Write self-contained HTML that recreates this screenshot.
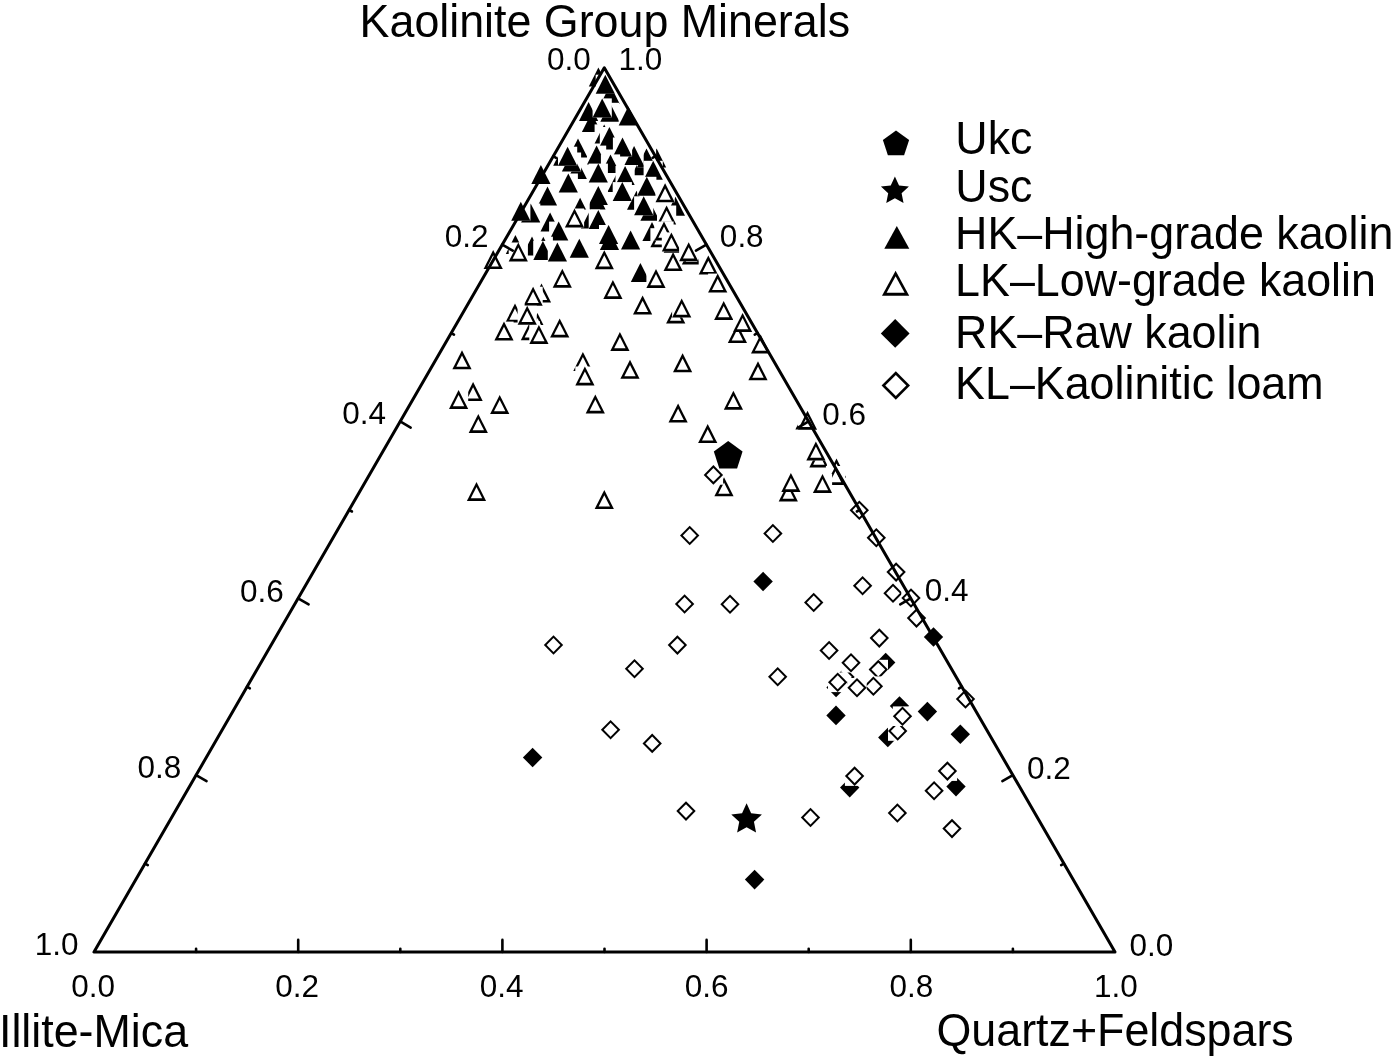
<!DOCTYPE html>
<html><head><meta charset="utf-8"><title>Kaolinite ternary</title>
<style>html,body{margin:0;padding:0;background:#fff;}svg{display:block;}text{font-family:"Liberation Sans",sans-serif;fill:#000;}</style>
</head><body>
<svg width="1400" height="1060" viewBox="0 0 1400 1060">
<rect width="1400" height="1060" fill="#fff"/>
<g id="marks"><rect x="588.80" y="67.40" width="19.20" height="19.00" fill="#fff"/><path d="M598.40,67.40L608.00,86.40L588.80,86.40Z" fill="#000"/><rect x="600.60" y="84.90" width="19.20" height="19.00" fill="#fff"/><path d="M610.20,84.90L619.80,103.90L600.60,103.90Z" fill="#000"/><rect x="595.70" y="74.70" width="19.20" height="19.00" fill="#fff"/><path d="M605.30,74.70L614.90,93.70L595.70,93.70Z" fill="#000"/><rect x="581.90" y="113.00" width="19.20" height="19.00" fill="#fff"/><path d="M591.50,113.00L601.10,132.00L581.90,132.00Z" fill="#000"/><rect x="579.00" y="101.90" width="19.20" height="19.00" fill="#fff"/><path d="M588.60,101.90L598.20,120.90L579.00,120.90Z" fill="#000"/><rect x="600.30" y="102.80" width="19.20" height="19.00" fill="#fff"/><path d="M609.90,102.80L619.50,121.80L600.30,121.80Z" fill="#000"/><rect x="592.60" y="98.40" width="19.20" height="19.00" fill="#fff"/><path d="M602.20,98.40L611.80,117.40L592.60,117.40Z" fill="#000"/><rect x="618.70" y="106.60" width="19.20" height="19.00" fill="#fff"/><path d="M628.30,106.60L637.90,125.60L618.70,125.60Z" fill="#000"/><rect x="594.60" y="124.40" width="19.20" height="19.00" fill="#fff"/><path d="M604.20,124.40L613.80,143.40L594.60,143.40Z" fill="#000"/><rect x="600.00" y="130.60" width="19.20" height="19.00" fill="#fff"/><path d="M609.60,130.60L619.20,149.60L600.00,149.60Z" fill="#000"/><rect x="599.80" y="127.00" width="19.20" height="19.00" fill="#fff"/><path d="M609.40,127.00L619.00,146.00L599.80,146.00Z" fill="#000"/><rect x="568.40" y="138.50" width="19.20" height="19.00" fill="#fff"/><path d="M578.00,138.50L587.60,157.50L568.40,157.50Z" fill="#000"/><rect x="647.00" y="148.40" width="19.20" height="19.00" fill="#fff"/><path d="M656.60,148.40L666.20,167.40L647.00,167.40Z" fill="#000"/><rect x="631.70" y="156.20" width="19.20" height="19.00" fill="#fff"/><path d="M641.30,156.20L650.90,175.20L631.70,175.20Z" fill="#000"/><rect x="636.90" y="148.40" width="19.20" height="19.00" fill="#fff"/><path d="M646.50,148.40L656.10,167.40L636.90,167.40Z" fill="#000"/><rect x="624.50" y="146.00" width="19.20" height="19.00" fill="#fff"/><path d="M634.10,146.00L643.70,165.00L624.50,165.00Z" fill="#000"/><rect x="612.90" y="137.50" width="19.20" height="19.00" fill="#fff"/><path d="M622.50,137.50L632.10,156.50L612.90,156.50Z" fill="#000"/><rect x="643.60" y="160.80" width="19.20" height="19.00" fill="#fff"/><path d="M653.20,160.80L662.80,179.80L643.60,179.80Z" fill="#000"/><rect x="567.70" y="160.00" width="19.20" height="19.00" fill="#fff"/><path d="M577.30,160.00L586.90,179.00L567.70,179.00Z" fill="#000"/><rect x="561.90" y="152.50" width="19.20" height="19.00" fill="#fff"/><path d="M571.50,152.50L581.10,171.50L561.90,171.50Z" fill="#000"/><rect x="553.20" y="146.70" width="19.20" height="19.00" fill="#fff"/><path d="M562.80,146.70L572.40,165.70L553.20,165.70Z" fill="#000"/><rect x="558.00" y="146.70" width="19.20" height="19.00" fill="#fff"/><path d="M567.60,146.70L577.20,165.70L558.00,165.70Z" fill="#000"/><rect x="587.00" y="145.60" width="19.20" height="19.00" fill="#fff"/><path d="M596.60,145.60L606.20,164.60L587.00,164.60Z" fill="#000"/><rect x="600.90" y="154.40" width="19.20" height="19.00" fill="#fff"/><path d="M610.50,154.40L620.10,173.40L600.90,173.40Z" fill="#000"/><rect x="531.30" y="165.00" width="19.20" height="19.00" fill="#fff"/><path d="M540.90,165.00L550.50,184.00L531.30,184.00Z" fill="#000"/><rect x="558.70" y="173.50" width="19.20" height="19.00" fill="#fff"/><path d="M568.30,173.50L577.90,192.50L558.70,192.50Z" fill="#000"/><rect x="607.40" y="173.00" width="19.20" height="19.00" fill="#fff"/><path d="M617.00,173.00L626.60,192.00L607.40,192.00Z" fill="#000"/><rect x="615.50" y="165.90" width="19.20" height="19.00" fill="#fff"/><path d="M625.10,165.90L634.70,184.90L615.50,184.90Z" fill="#000"/><rect x="588.70" y="163.60" width="19.20" height="19.00" fill="#fff"/><path d="M598.30,163.60L607.90,182.60L588.70,182.60Z" fill="#000"/><rect x="627.00" y="190.80" width="19.20" height="19.00" fill="#fff"/><path d="M636.60,190.80L646.20,209.80L627.00,209.80Z" fill="#000"/><rect x="637.20" y="176.80" width="19.20" height="19.00" fill="#fff"/><path d="M646.80,176.80L656.40,195.80L637.20,195.80Z" fill="#000"/><rect x="612.70" y="182.10" width="19.20" height="19.00" fill="#fff"/><path d="M622.30,182.10L631.90,201.10L612.70,201.10Z" fill="#000"/><rect x="586.40" y="190.60" width="19.20" height="19.00" fill="#fff"/><path d="M596.00,190.60L605.60,209.60L586.40,209.60Z" fill="#000"/><rect x="588.70" y="185.90" width="19.20" height="19.00" fill="#fff"/><path d="M598.30,185.90L607.90,204.90L588.70,204.90Z" fill="#000"/><rect x="537.90" y="186.50" width="19.20" height="19.00" fill="#fff"/><path d="M547.50,186.50L557.10,205.50L537.90,205.50Z" fill="#000"/><rect x="640.40" y="201.80" width="19.20" height="19.00" fill="#fff"/><path d="M650.00,201.80L659.60,220.80L640.40,220.80Z" fill="#000"/><rect x="634.10" y="196.30" width="19.20" height="19.00" fill="#fff"/><path d="M643.70,196.30L653.30,215.30L634.10,215.30Z" fill="#000"/><rect x="665.80" y="196.70" width="19.20" height="19.00" fill="#fff"/><path d="M675.40,196.70L685.00,215.70L665.80,215.70Z" fill="#000"/><rect x="521.10" y="203.50" width="19.20" height="19.00" fill="#fff"/><path d="M530.70,203.50L540.30,222.50L521.10,222.50Z" fill="#000"/><rect x="511.20" y="201.70" width="19.20" height="19.00" fill="#fff"/><path d="M520.80,201.70L530.40,220.70L511.20,220.70Z" fill="#000"/><rect x="570.50" y="197.70" width="19.20" height="19.00" fill="#fff"/><path d="M580.10,197.70L589.70,216.70L570.50,216.70Z" fill="#000"/><rect x="540.50" y="212.60" width="19.20" height="19.00" fill="#fff"/><path d="M550.10,212.60L559.70,231.60L540.50,231.60Z" fill="#000"/><rect x="549.10" y="221.60" width="19.20" height="19.00" fill="#fff"/><path d="M558.70,221.60L568.30,240.60L549.10,240.60Z" fill="#000"/><rect x="580.90" y="209.50" width="19.20" height="19.00" fill="#fff"/><path d="M590.50,209.50L600.10,228.50L580.90,228.50Z" fill="#000"/><rect x="588.70" y="210.00" width="19.20" height="19.00" fill="#fff"/><path d="M598.30,210.00L607.90,229.00L588.70,229.00Z" fill="#000"/><rect x="642.40" y="222.00" width="19.20" height="19.00" fill="#fff"/><path d="M652.00,222.00L661.60,241.00L642.40,241.00Z" fill="#000"/><rect x="599.90" y="231.00" width="19.20" height="19.00" fill="#fff"/><path d="M609.50,231.00L619.10,250.00L599.90,250.00Z" fill="#000"/><rect x="599.00" y="225.00" width="19.20" height="19.00" fill="#fff"/><path d="M608.60,225.00L618.20,244.00L599.00,244.00Z" fill="#000"/><rect x="621.00" y="230.40" width="19.20" height="19.00" fill="#fff"/><path d="M630.60,230.40L640.20,249.40L621.00,249.40Z" fill="#000"/><rect x="505.80" y="235.00" width="19.20" height="19.00" fill="#fff"/><path d="M515.40,235.00L525.00,254.00L505.80,254.00Z" fill="#000"/><rect x="522.40" y="236.60" width="19.20" height="19.00" fill="#fff"/><path d="M532.00,236.60L541.60,255.60L522.40,255.60Z" fill="#000"/><rect x="533.70" y="236.70" width="19.20" height="19.00" fill="#fff"/><path d="M543.30,236.70L552.90,255.70L533.70,255.70Z" fill="#000"/><rect x="533.30" y="240.90" width="19.20" height="19.00" fill="#fff"/><path d="M542.90,240.90L552.50,259.90L533.30,259.90Z" fill="#000"/><rect x="547.80" y="242.60" width="19.20" height="19.00" fill="#fff"/><path d="M557.40,242.60L567.00,261.60L547.80,261.60Z" fill="#000"/><rect x="569.70" y="238.70" width="19.20" height="19.00" fill="#fff"/><path d="M579.30,238.70L588.90,257.70L569.70,257.70Z" fill="#000"/><rect x="630.80" y="263.00" width="19.20" height="19.00" fill="#fff"/><path d="M640.40,263.00L650.00,282.00L630.80,282.00Z" fill="#000"/><rect x="655.50" y="183.30" width="19.20" height="19.00" fill="#fff"/><path d="M665.10,183.30L674.70,202.30L655.50,202.30Z" fill="#000"/><path d="M665.10,188.40L670.79,199.66L659.41,199.66Z" fill="#fff"/><rect x="657.00" y="205.50" width="19.20" height="19.00" fill="#fff"/><path d="M666.60,205.50L676.20,224.50L657.00,224.50Z" fill="#000"/><path d="M666.60,210.60L672.29,221.85L660.91,221.85Z" fill="#fff"/><rect x="650.40" y="228.20" width="19.20" height="19.00" fill="#fff"/><path d="M660.00,228.20L669.60,247.20L650.40,247.20Z" fill="#000"/><path d="M660.00,233.30L665.69,244.55L654.31,244.55Z" fill="#fff"/><rect x="654.40" y="221.50" width="19.20" height="19.00" fill="#fff"/><path d="M664.00,221.50L673.60,240.50L654.40,240.50Z" fill="#000"/><path d="M664.00,226.60L669.69,237.85L658.31,237.85Z" fill="#fff"/><rect x="564.90" y="208.50" width="19.20" height="19.00" fill="#fff"/><path d="M574.50,208.50L584.10,227.50L564.90,227.50Z" fill="#000"/><path d="M574.50,213.60L580.19,224.85L568.81,224.85Z" fill="#fff"/><rect x="483.60" y="250.10" width="19.20" height="19.00" fill="#fff"/><path d="M493.20,250.10L502.80,269.10L483.60,269.10Z" fill="#000"/><path d="M493.20,255.20L498.89,266.46L487.51,266.46Z" fill="#fff"/><rect x="508.70" y="242.50" width="19.20" height="19.00" fill="#fff"/><path d="M518.30,242.50L527.90,261.50L508.70,261.50Z" fill="#000"/><path d="M518.30,247.60L523.99,258.86L512.61,258.86Z" fill="#fff"/><rect x="594.70" y="250.20" width="19.20" height="19.00" fill="#fff"/><path d="M604.30,250.20L613.90,269.20L594.70,269.20Z" fill="#000"/><path d="M604.30,255.30L609.99,266.56L598.61,266.56Z" fill="#fff"/><rect x="646.40" y="269.00" width="19.20" height="19.00" fill="#fff"/><path d="M656.00,269.00L665.60,288.00L646.40,288.00Z" fill="#000"/><path d="M656.00,274.10L661.69,285.36L650.31,285.36Z" fill="#fff"/><rect x="552.70" y="268.70" width="19.20" height="19.00" fill="#fff"/><path d="M562.30,268.70L571.90,287.70L552.70,287.70Z" fill="#000"/><path d="M562.30,273.80L567.99,285.06L556.61,285.06Z" fill="#fff"/><rect x="603.30" y="279.90" width="19.20" height="19.00" fill="#fff"/><path d="M612.90,279.90L622.50,298.90L603.30,298.90Z" fill="#000"/><path d="M612.90,285.00L618.59,296.25L607.21,296.25Z" fill="#fff"/><rect x="531.90" y="283.60" width="19.20" height="19.00" fill="#fff"/><path d="M541.50,283.60L551.10,302.60L531.90,302.60Z" fill="#000"/><path d="M541.50,288.70L547.19,299.96L535.81,299.96Z" fill="#fff"/><rect x="523.50" y="286.70" width="19.20" height="19.00" fill="#fff"/><path d="M533.10,286.70L542.70,305.70L523.50,305.70Z" fill="#000"/><path d="M533.10,291.80L538.79,303.06L527.41,303.06Z" fill="#fff"/><rect x="633.00" y="295.60" width="19.20" height="19.00" fill="#fff"/><path d="M642.60,295.60L652.20,314.60L633.00,314.60Z" fill="#000"/><path d="M642.60,300.70L648.29,311.96L636.91,311.96Z" fill="#fff"/><rect x="505.40" y="303.50" width="19.20" height="19.00" fill="#fff"/><path d="M515.00,303.50L524.60,322.50L505.40,322.50Z" fill="#000"/><path d="M515.00,308.60L520.69,319.86L509.31,319.86Z" fill="#fff"/><rect x="527.80" y="313.00" width="19.20" height="19.00" fill="#fff"/><path d="M537.40,313.00L547.00,332.00L527.80,332.00Z" fill="#000"/><path d="M537.40,318.10L543.09,329.36L531.71,329.36Z" fill="#fff"/><rect x="520.80" y="321.20" width="19.20" height="19.00" fill="#fff"/><path d="M530.40,321.20L540.00,340.20L520.80,340.20Z" fill="#000"/><path d="M530.40,326.30L536.09,337.56L524.71,337.56Z" fill="#fff"/><rect x="517.60" y="305.70" width="19.20" height="19.00" fill="#fff"/><path d="M527.20,305.70L536.80,324.70L517.60,324.70Z" fill="#000"/><path d="M527.20,310.80L532.89,322.06L521.51,322.06Z" fill="#fff"/><rect x="494.40" y="321.60" width="19.20" height="19.00" fill="#fff"/><path d="M504.00,321.60L513.60,340.60L494.40,340.60Z" fill="#000"/><path d="M504.00,326.70L509.69,337.96L498.31,337.96Z" fill="#fff"/><rect x="529.30" y="325.00" width="19.20" height="19.00" fill="#fff"/><path d="M538.90,325.00L548.50,344.00L529.30,344.00Z" fill="#000"/><path d="M538.90,330.10L544.59,341.36L533.21,341.36Z" fill="#fff"/><rect x="550.10" y="318.40" width="19.20" height="19.00" fill="#fff"/><path d="M559.70,318.40L569.30,337.40L550.10,337.40Z" fill="#000"/><path d="M559.70,323.50L565.39,334.75L554.01,334.75Z" fill="#fff"/><rect x="610.30" y="332.00" width="19.20" height="19.00" fill="#fff"/><path d="M619.90,332.00L629.50,351.00L610.30,351.00Z" fill="#000"/><path d="M619.90,337.10L625.59,348.36L614.21,348.36Z" fill="#fff"/><rect x="452.40" y="350.30" width="19.20" height="19.00" fill="#fff"/><path d="M462.00,350.30L471.60,369.30L452.40,369.30Z" fill="#000"/><path d="M462.00,355.40L467.69,366.66L456.31,366.66Z" fill="#fff"/><rect x="573.30" y="352.00" width="19.20" height="19.00" fill="#fff"/><path d="M582.90,352.00L592.50,371.00L573.30,371.00Z" fill="#000"/><path d="M582.90,357.10L588.59,368.36L577.21,368.36Z" fill="#fff"/><rect x="575.30" y="366.50" width="19.20" height="19.00" fill="#fff"/><path d="M584.90,366.50L594.50,385.50L575.30,385.50Z" fill="#000"/><path d="M584.90,371.60L590.59,382.86L579.21,382.86Z" fill="#fff"/><rect x="620.40" y="359.80" width="19.20" height="19.00" fill="#fff"/><path d="M630.00,359.80L639.60,378.80L620.40,378.80Z" fill="#000"/><path d="M630.00,364.90L635.69,376.16L624.31,376.16Z" fill="#fff"/><rect x="663.50" y="252.10" width="19.20" height="19.00" fill="#fff"/><path d="M673.10,252.10L682.70,271.10L663.50,271.10Z" fill="#000"/><path d="M673.10,257.20L678.79,268.46L667.41,268.46Z" fill="#fff"/><rect x="663.70" y="233.80" width="19.20" height="19.00" fill="#fff"/><path d="M673.30,233.80L682.90,252.80L663.70,252.80Z" fill="#000"/><path d="M673.30,238.90L678.99,250.16L667.61,250.16Z" fill="#fff"/><rect x="661.80" y="232.40" width="19.20" height="19.00" fill="#fff"/><path d="M671.40,232.40L681.00,251.40L661.80,251.40Z" fill="#000"/><path d="M671.40,237.50L677.09,248.75L665.71,248.75Z" fill="#fff"/><rect x="681.90" y="245.50" width="19.20" height="19.00" fill="#fff"/><path d="M691.50,245.50L701.10,264.50L681.90,264.50Z" fill="#000"/><path d="M691.50,250.60L697.19,261.86L685.81,261.86Z" fill="#fff"/><rect x="679.10" y="242.20" width="19.20" height="19.00" fill="#fff"/><path d="M688.70,242.20L698.30,261.20L679.10,261.20Z" fill="#000"/><path d="M688.70,247.30L694.39,258.56L683.01,258.56Z" fill="#fff"/><rect x="698.70" y="255.60" width="19.20" height="19.00" fill="#fff"/><path d="M708.30,255.60L717.90,274.60L698.70,274.60Z" fill="#000"/><path d="M708.30,260.70L713.99,271.96L702.61,271.96Z" fill="#fff"/><rect x="708.10" y="273.60" width="19.20" height="19.00" fill="#fff"/><path d="M717.70,273.60L727.30,292.60L708.10,292.60Z" fill="#000"/><path d="M717.70,278.70L723.39,289.96L712.01,289.96Z" fill="#fff"/><rect x="666.10" y="304.40" width="19.20" height="19.00" fill="#fff"/><path d="M675.70,304.40L685.30,323.40L666.10,323.40Z" fill="#000"/><path d="M675.70,309.50L681.39,320.75L670.01,320.75Z" fill="#fff"/><rect x="672.10" y="298.40" width="19.20" height="19.00" fill="#fff"/><path d="M681.70,298.40L691.30,317.40L672.10,317.40Z" fill="#000"/><path d="M681.70,303.50L687.39,314.75L676.01,314.75Z" fill="#fff"/><rect x="714.10" y="301.00" width="19.20" height="19.00" fill="#fff"/><path d="M723.70,301.00L733.30,320.00L714.10,320.00Z" fill="#000"/><path d="M723.70,306.10L729.39,317.36L718.01,317.36Z" fill="#fff"/><rect x="727.80" y="324.10" width="19.20" height="19.00" fill="#fff"/><path d="M737.40,324.10L747.00,343.10L727.80,343.10Z" fill="#000"/><path d="M737.40,329.20L743.09,340.46L731.71,340.46Z" fill="#fff"/><rect x="733.00" y="313.00" width="19.20" height="19.00" fill="#fff"/><path d="M742.60,313.00L752.20,332.00L733.00,332.00Z" fill="#000"/><path d="M742.60,318.10L748.29,329.36L736.91,329.36Z" fill="#fff"/><rect x="751.00" y="334.40" width="19.20" height="19.00" fill="#fff"/><path d="M760.60,334.40L770.20,353.40L751.00,353.40Z" fill="#000"/><path d="M760.60,339.50L766.29,350.75L754.91,350.75Z" fill="#fff"/><rect x="673.00" y="353.30" width="19.20" height="19.00" fill="#fff"/><path d="M682.60,353.30L692.20,372.30L673.00,372.30Z" fill="#000"/><path d="M682.60,358.40L688.29,369.66L676.91,369.66Z" fill="#fff"/><rect x="748.40" y="361.30" width="19.20" height="19.00" fill="#fff"/><path d="M758.00,361.30L767.60,380.30L748.40,380.30Z" fill="#000"/><path d="M758.00,366.40L763.69,377.66L752.31,377.66Z" fill="#fff"/><rect x="463.50" y="382.10" width="19.20" height="19.00" fill="#fff"/><path d="M473.10,382.10L482.70,401.10L463.50,401.10Z" fill="#000"/><path d="M473.10,387.20L478.79,398.46L467.41,398.46Z" fill="#fff"/><rect x="449.00" y="389.90" width="19.20" height="19.00" fill="#fff"/><path d="M458.60,389.90L468.20,408.90L449.00,408.90Z" fill="#000"/><path d="M458.60,395.00L464.29,406.25L452.91,406.25Z" fill="#fff"/><rect x="490.10" y="395.00" width="19.20" height="19.00" fill="#fff"/><path d="M499.70,395.00L509.30,414.00L490.10,414.00Z" fill="#000"/><path d="M499.70,400.10L505.39,411.36L494.01,411.36Z" fill="#fff"/><rect x="468.70" y="413.90" width="19.20" height="19.00" fill="#fff"/><path d="M478.30,413.90L487.90,432.90L468.70,432.90Z" fill="#000"/><path d="M478.30,419.00L483.99,430.25L472.61,430.25Z" fill="#fff"/><rect x="466.90" y="482.00" width="19.20" height="19.00" fill="#fff"/><path d="M476.50,482.00L486.10,501.00L466.90,501.00Z" fill="#000"/><path d="M476.50,487.10L482.19,498.36L470.81,498.36Z" fill="#fff"/><rect x="585.70" y="394.40" width="19.20" height="19.00" fill="#fff"/><path d="M595.30,394.40L604.90,413.40L585.70,413.40Z" fill="#000"/><path d="M595.30,399.50L600.99,410.75L589.61,410.75Z" fill="#fff"/><rect x="594.70" y="490.10" width="19.20" height="19.00" fill="#fff"/><path d="M604.30,490.10L613.90,509.10L594.70,509.10Z" fill="#000"/><path d="M604.30,495.20L609.99,506.46L598.61,506.46Z" fill="#fff"/><rect x="723.80" y="390.70" width="19.20" height="19.00" fill="#fff"/><path d="M733.40,390.70L743.00,409.70L723.80,409.70Z" fill="#000"/><path d="M733.40,395.80L739.09,407.06L727.71,407.06Z" fill="#fff"/><rect x="668.50" y="403.60" width="19.20" height="19.00" fill="#fff"/><path d="M678.10,403.60L687.70,422.60L668.50,422.60Z" fill="#000"/><path d="M678.10,408.70L683.79,419.96L672.41,419.96Z" fill="#fff"/><rect x="698.10" y="424.10" width="19.20" height="19.00" fill="#fff"/><path d="M707.70,424.10L717.30,443.10L698.10,443.10Z" fill="#000"/><path d="M707.70,429.20L713.39,440.46L702.01,440.46Z" fill="#fff"/><rect x="714.40" y="477.30" width="19.20" height="19.00" fill="#fff"/><path d="M724.00,477.30L733.60,496.30L714.40,496.30Z" fill="#000"/><path d="M724.00,482.40L729.69,493.66L718.31,493.66Z" fill="#fff"/><rect x="795.40" y="410.50" width="19.20" height="19.00" fill="#fff"/><path d="M805.00,410.50L814.60,429.50L795.40,429.50Z" fill="#000"/><path d="M805.00,415.60L810.69,426.86L799.31,426.86Z" fill="#fff"/><rect x="797.90" y="410.70" width="19.20" height="19.00" fill="#fff"/><path d="M807.50,410.70L817.10,429.70L797.90,429.70Z" fill="#000"/><path d="M807.50,415.80L813.19,427.06L801.81,427.06Z" fill="#fff"/><rect x="809.30" y="448.50" width="19.20" height="19.00" fill="#fff"/><path d="M818.90,448.50L828.50,467.50L809.30,467.50Z" fill="#000"/><path d="M818.90,453.60L824.59,464.86L813.21,464.86Z" fill="#fff"/><rect x="806.30" y="441.40" width="19.20" height="19.00" fill="#fff"/><path d="M815.90,441.40L825.50,460.40L806.30,460.40Z" fill="#000"/><path d="M815.90,446.50L821.59,457.75L810.21,457.75Z" fill="#fff"/><rect x="826.90" y="458.50" width="19.20" height="19.00" fill="#fff"/><path d="M836.50,458.50L846.10,477.50L826.90,477.50Z" fill="#000"/><path d="M836.50,463.60L842.19,474.86L830.81,474.86Z" fill="#fff"/><rect x="825.90" y="466.00" width="19.20" height="19.00" fill="#fff"/><path d="M835.50,466.00L845.10,485.00L825.90,485.00Z" fill="#000"/><path d="M835.50,471.10L841.19,482.36L829.81,482.36Z" fill="#fff"/><rect x="812.90" y="473.90" width="19.20" height="19.00" fill="#fff"/><path d="M822.50,473.90L832.10,492.90L812.90,492.90Z" fill="#000"/><path d="M822.50,479.00L828.19,490.25L816.81,490.25Z" fill="#fff"/><rect x="778.70" y="482.40" width="19.20" height="19.00" fill="#fff"/><path d="M788.30,482.40L797.90,501.40L778.70,501.40Z" fill="#000"/><path d="M788.30,487.50L793.99,498.75L782.61,498.75Z" fill="#fff"/><rect x="781.30" y="473.00" width="19.20" height="19.00" fill="#fff"/><path d="M790.90,473.00L800.50,492.00L781.30,492.00Z" fill="#000"/><path d="M790.90,478.10L796.59,489.36L785.21,489.36Z" fill="#fff"/><rect x="522.90" y="747.70" width="19.40" height="19.60" fill="#fff"/><path d="M532.60,747.70L542.30,757.50L532.60,767.30L522.90,757.50Z" fill="#000"/><rect x="753.40" y="571.70" width="19.40" height="19.60" fill="#fff"/><path d="M763.10,571.70L772.80,581.50L763.10,591.30L753.40,581.50Z" fill="#000"/><rect x="744.90" y="869.80" width="19.40" height="19.60" fill="#fff"/><path d="M754.60,869.80L764.30,879.60L754.60,889.40L744.90,879.60Z" fill="#000"/><rect x="923.80" y="627.20" width="19.40" height="19.60" fill="#fff"/><path d="M933.50,627.20L943.20,637.00L933.50,646.80L923.80,637.00Z" fill="#000"/><rect x="876.00" y="652.70" width="19.40" height="19.60" fill="#fff"/><path d="M885.70,652.70L895.40,662.50L885.70,672.30L876.00,662.50Z" fill="#000"/><rect x="826.40" y="677.70" width="19.40" height="19.60" fill="#fff"/><path d="M836.10,677.70L845.80,687.50L836.10,697.30L826.40,687.50Z" fill="#000"/><rect x="826.30" y="705.60" width="19.40" height="19.60" fill="#fff"/><path d="M836.00,705.60L845.70,715.40L836.00,725.20L826.30,715.40Z" fill="#000"/><rect x="889.80" y="696.20" width="19.40" height="19.60" fill="#fff"/><path d="M899.50,696.20L909.20,706.00L899.50,715.80L889.80,706.00Z" fill="#000"/><rect x="917.70" y="701.80" width="19.40" height="19.60" fill="#fff"/><path d="M927.40,701.80L937.10,711.60L927.40,721.40L917.70,711.60Z" fill="#000"/><rect x="878.10" y="727.70" width="19.40" height="19.60" fill="#fff"/><path d="M887.80,727.70L897.50,737.50L887.80,747.30L878.10,737.50Z" fill="#000"/><rect x="950.60" y="724.40" width="19.40" height="19.60" fill="#fff"/><path d="M960.30,724.40L970.00,734.20L960.30,744.00L950.60,734.20Z" fill="#000"/><rect x="840.00" y="777.80" width="19.40" height="19.60" fill="#fff"/><path d="M849.70,777.80L859.40,787.60L849.70,797.40L840.00,787.60Z" fill="#000"/><rect x="946.30" y="776.80" width="19.40" height="19.60" fill="#fff"/><path d="M956.00,776.80L965.70,786.60L956.00,796.40L946.30,786.60Z" fill="#000"/><rect x="835.30" y="667.20" width="19.40" height="19.60" fill="#fff"/><path d="M845.00,667.20L854.70,677.00L845.00,686.80L835.30,677.00Z" fill="#000"/><path d="M845.00,670.03L851.87,677.00L845.00,683.97L838.13,677.00Z" fill="#fff"/><rect x="543.80" y="635.20" width="19.40" height="19.60" fill="#fff"/><path d="M553.50,635.20L563.20,645.00L553.50,654.80L543.80,645.00Z" fill="#000"/><path d="M553.50,638.03L560.37,645.00L553.50,651.97L546.63,645.00Z" fill="#fff"/><rect x="600.90" y="719.90" width="19.40" height="19.60" fill="#fff"/><path d="M610.60,719.90L620.30,729.70L610.60,739.50L600.90,729.70Z" fill="#000"/><path d="M610.60,722.73L617.47,729.70L610.60,736.67L603.73,729.70Z" fill="#fff"/><rect x="642.50" y="733.60" width="19.40" height="19.60" fill="#fff"/><path d="M652.20,733.60L661.90,743.40L652.20,753.20L642.50,743.40Z" fill="#000"/><path d="M652.20,736.43L659.07,743.40L652.20,750.37L645.33,743.40Z" fill="#fff"/><rect x="676.30" y="801.30" width="19.40" height="19.60" fill="#fff"/><path d="M686.00,801.30L695.70,811.10L686.00,820.90L676.30,811.10Z" fill="#000"/><path d="M686.00,804.13L692.87,811.10L686.00,818.07L679.13,811.10Z" fill="#fff"/><rect x="624.80" y="659.00" width="19.40" height="19.60" fill="#fff"/><path d="M634.50,659.00L644.20,668.80L634.50,678.60L624.80,668.80Z" fill="#000"/><path d="M634.50,661.83L641.37,668.80L634.50,675.77L627.63,668.80Z" fill="#fff"/><rect x="667.70" y="635.30" width="19.40" height="19.60" fill="#fff"/><path d="M677.40,635.30L687.10,645.10L677.40,654.90L667.70,645.10Z" fill="#000"/><path d="M677.40,638.13L684.27,645.10L677.40,652.07L670.53,645.10Z" fill="#fff"/><rect x="674.90" y="594.20" width="19.40" height="19.60" fill="#fff"/><path d="M684.60,594.20L694.30,604.00L684.60,613.80L674.90,604.00Z" fill="#000"/><path d="M684.60,597.03L691.47,604.00L684.60,610.97L677.73,604.00Z" fill="#fff"/><rect x="720.30" y="594.50" width="19.40" height="19.60" fill="#fff"/><path d="M730.00,594.50L739.70,604.30L730.00,614.10L720.30,604.30Z" fill="#000"/><path d="M730.00,597.33L736.87,604.30L730.00,611.27L723.13,604.30Z" fill="#fff"/><rect x="680.00" y="525.70" width="19.40" height="19.60" fill="#fff"/><path d="M689.70,525.70L699.40,535.50L689.70,545.30L680.00,535.50Z" fill="#000"/><path d="M689.70,528.53L696.57,535.50L689.70,542.47L682.83,535.50Z" fill="#fff"/><rect x="703.70" y="465.10" width="19.40" height="19.60" fill="#fff"/><path d="M713.40,465.10L723.10,474.90L713.40,484.70L703.70,474.90Z" fill="#000"/><path d="M713.40,467.93L720.27,474.90L713.40,481.87L706.53,474.90Z" fill="#fff"/><rect x="763.20" y="523.70" width="19.40" height="19.60" fill="#fff"/><path d="M772.90,523.70L782.60,533.50L772.90,543.30L763.20,533.50Z" fill="#000"/><path d="M772.90,526.53L779.77,533.50L772.90,540.47L766.03,533.50Z" fill="#fff"/><rect x="849.60" y="500.40" width="19.40" height="19.60" fill="#fff"/><path d="M859.30,500.40L869.00,510.20L859.30,520.00L849.60,510.20Z" fill="#000"/><path d="M859.30,503.23L866.17,510.20L859.30,517.17L852.43,510.20Z" fill="#fff"/><rect x="866.60" y="527.90" width="19.40" height="19.60" fill="#fff"/><path d="M876.30,527.90L886.00,537.70L876.30,547.50L866.60,537.70Z" fill="#000"/><path d="M876.30,530.73L883.17,537.70L876.30,544.67L869.43,537.70Z" fill="#fff"/><rect x="886.40" y="562.30" width="19.40" height="19.60" fill="#fff"/><path d="M896.10,562.30L905.80,572.10L896.10,581.90L886.40,572.10Z" fill="#000"/><path d="M896.10,565.13L902.97,572.10L896.10,579.07L889.23,572.10Z" fill="#fff"/><rect x="852.90" y="576.00" width="19.40" height="19.60" fill="#fff"/><path d="M862.60,576.00L872.30,585.80L862.60,595.60L852.90,585.80Z" fill="#000"/><path d="M862.60,578.83L869.47,585.80L862.60,592.77L855.73,585.80Z" fill="#fff"/><rect x="804.00" y="592.70" width="19.40" height="19.60" fill="#fff"/><path d="M813.70,592.70L823.40,602.50L813.70,612.30L804.00,602.50Z" fill="#000"/><path d="M813.70,595.53L820.57,602.50L813.70,609.47L806.83,602.50Z" fill="#fff"/><rect x="883.30" y="583.40" width="19.40" height="19.60" fill="#fff"/><path d="M893.00,583.40L902.70,593.20L893.00,603.00L883.30,593.20Z" fill="#000"/><path d="M893.00,586.23L899.87,593.20L893.00,600.17L886.13,593.20Z" fill="#fff"/><rect x="901.30" y="588.20" width="19.40" height="19.60" fill="#fff"/><path d="M911.00,588.20L920.70,598.00L911.00,607.80L901.30,598.00Z" fill="#000"/><path d="M911.00,591.03L917.87,598.00L911.00,604.97L904.13,598.00Z" fill="#fff"/><rect x="906.80" y="608.30" width="19.40" height="19.60" fill="#fff"/><path d="M916.50,608.30L926.20,618.10L916.50,627.90L906.80,618.10Z" fill="#000"/><path d="M916.50,611.13L923.37,618.10L916.50,625.07L909.63,618.10Z" fill="#fff"/><rect x="869.60" y="628.30" width="19.40" height="19.60" fill="#fff"/><path d="M879.30,628.30L889.00,638.10L879.30,647.90L869.60,638.10Z" fill="#000"/><path d="M879.30,631.13L886.17,638.10L879.30,645.07L872.43,638.10Z" fill="#fff"/><rect x="819.40" y="640.70" width="19.40" height="19.60" fill="#fff"/><path d="M829.10,640.70L838.80,650.50L829.10,660.30L819.40,650.50Z" fill="#000"/><path d="M829.10,643.53L835.97,650.50L829.10,657.47L822.23,650.50Z" fill="#fff"/><rect x="841.30" y="652.90" width="19.40" height="19.60" fill="#fff"/><path d="M851.00,652.90L860.70,662.70L851.00,672.50L841.30,662.70Z" fill="#000"/><path d="M851.00,655.73L857.87,662.70L851.00,669.67L844.13,662.70Z" fill="#fff"/><rect x="868.60" y="659.80" width="19.40" height="19.60" fill="#fff"/><path d="M878.30,659.80L888.00,669.60L878.30,679.40L868.60,669.60Z" fill="#000"/><path d="M878.30,662.63L885.17,669.60L878.30,676.57L871.43,669.60Z" fill="#fff"/><rect x="768.00" y="666.90" width="19.40" height="19.60" fill="#fff"/><path d="M777.70,666.90L787.40,676.70L777.70,686.50L768.00,676.70Z" fill="#000"/><path d="M777.70,669.73L784.57,676.70L777.70,683.67L770.83,676.70Z" fill="#fff"/><rect x="828.00" y="672.50" width="19.40" height="19.60" fill="#fff"/><path d="M837.70,672.50L847.40,682.30L837.70,692.10L828.00,682.30Z" fill="#000"/><path d="M837.70,675.33L844.57,682.30L837.70,689.27L830.83,682.30Z" fill="#fff"/><rect x="863.70" y="676.40" width="19.40" height="19.60" fill="#fff"/><path d="M873.40,676.40L883.10,686.20L873.40,696.00L863.70,686.20Z" fill="#000"/><path d="M873.40,679.23L880.27,686.20L873.40,693.17L866.53,686.20Z" fill="#fff"/><rect x="847.30" y="678.00" width="19.40" height="19.60" fill="#fff"/><path d="M857.00,678.00L866.70,687.80L857.00,697.60L847.30,687.80Z" fill="#000"/><path d="M857.00,680.83L863.87,687.80L857.00,694.77L850.13,687.80Z" fill="#fff"/><rect x="888.00" y="721.20" width="19.40" height="19.60" fill="#fff"/><path d="M897.70,721.20L907.40,731.00L897.70,740.80L888.00,731.00Z" fill="#000"/><path d="M897.70,724.03L904.57,731.00L897.70,737.97L890.83,731.00Z" fill="#fff"/><rect x="892.80" y="706.40" width="19.40" height="19.60" fill="#fff"/><path d="M902.50,706.40L912.20,716.20L902.50,726.00L892.80,716.20Z" fill="#000"/><path d="M902.50,709.23L909.37,716.20L902.50,723.17L895.63,716.20Z" fill="#fff"/><rect x="955.80" y="689.20" width="19.40" height="19.60" fill="#fff"/><path d="M965.50,689.20L975.20,699.00L965.50,708.80L955.80,699.00Z" fill="#000"/><path d="M965.50,692.03L972.37,699.00L965.50,705.97L958.63,699.00Z" fill="#fff"/><rect x="844.90" y="766.30" width="19.40" height="19.60" fill="#fff"/><path d="M854.60,766.30L864.30,776.10L854.60,785.90L844.90,776.10Z" fill="#000"/><path d="M854.60,769.13L861.47,776.10L854.60,783.07L847.73,776.10Z" fill="#fff"/><rect x="937.70" y="761.30" width="19.40" height="19.60" fill="#fff"/><path d="M947.40,761.30L957.10,771.10L947.40,780.90L937.70,771.10Z" fill="#000"/><path d="M947.40,764.13L954.27,771.10L947.40,778.07L940.53,771.10Z" fill="#fff"/><rect x="924.40" y="781.00" width="19.40" height="19.60" fill="#fff"/><path d="M934.10,781.00L943.80,790.80L934.10,800.60L924.40,790.80Z" fill="#000"/><path d="M934.10,783.83L940.97,790.80L934.10,797.77L927.23,790.80Z" fill="#fff"/><rect x="942.30" y="818.80" width="19.40" height="19.60" fill="#fff"/><path d="M952.00,818.80L961.70,828.60L952.00,838.40L942.30,828.60Z" fill="#000"/><path d="M952.00,821.63L958.87,828.60L952.00,835.57L945.13,828.60Z" fill="#fff"/><rect x="887.70" y="803.20" width="19.40" height="19.60" fill="#fff"/><path d="M897.40,803.20L907.10,813.00L897.40,822.80L887.70,813.00Z" fill="#000"/><path d="M897.40,806.03L904.27,813.00L897.40,819.97L890.53,813.00Z" fill="#fff"/><rect x="800.80" y="807.70" width="19.40" height="19.60" fill="#fff"/><path d="M810.50,807.70L820.20,817.50L810.50,827.30L800.80,817.50Z" fill="#000"/><path d="M810.50,810.53L817.37,817.50L810.50,824.47L803.63,817.50Z" fill="#fff"/><path d="M728.20,441.10L742.56,451.53L737.08,468.42L719.32,468.42L713.84,451.53Z" fill="#000"/><path d="M746.60,803.30L751.14,813.15L761.91,814.42L753.95,821.79L756.06,832.43L746.60,827.13L737.14,832.43L739.25,821.79L731.29,814.42L742.06,813.15Z" fill="#000"/></g>
<g id="axes"><path d="M94.0,952.0L1115.0,952.0L604.3,67.8Z" fill="none" stroke="#000" stroke-width="3.0" stroke-linejoin="round"/><line x1="196.10" y1="952.00" x2="196.10" y2="948.80" stroke="#000" stroke-width="2.6" stroke-linecap="round"/><line x1="553.27" y1="156.22" x2="556.04" y2="157.82" stroke="#000" stroke-width="2.6" stroke-linecap="round"/><line x1="1063.93" y1="863.58" x2="1061.16" y2="865.18" stroke="#000" stroke-width="2.6" stroke-linecap="round"/><line x1="298.20" y1="952.00" x2="298.20" y2="939.90" stroke="#000" stroke-width="2.6" stroke-linecap="round"/><line x1="502.24" y1="244.64" x2="512.72" y2="250.69" stroke="#000" stroke-width="2.6" stroke-linecap="round"/><line x1="1012.86" y1="775.16" x2="1002.38" y2="781.21" stroke="#000" stroke-width="2.6" stroke-linecap="round"/><line x1="400.30" y1="952.00" x2="400.30" y2="948.80" stroke="#000" stroke-width="2.6" stroke-linecap="round"/><line x1="451.21" y1="333.06" x2="453.98" y2="334.66" stroke="#000" stroke-width="2.6" stroke-linecap="round"/><line x1="961.79" y1="686.74" x2="959.02" y2="688.34" stroke="#000" stroke-width="2.6" stroke-linecap="round"/><line x1="502.40" y1="952.00" x2="502.40" y2="939.90" stroke="#000" stroke-width="2.6" stroke-linecap="round"/><line x1="400.18" y1="421.48" x2="410.66" y2="427.53" stroke="#000" stroke-width="2.6" stroke-linecap="round"/><line x1="910.72" y1="598.32" x2="900.24" y2="604.37" stroke="#000" stroke-width="2.6" stroke-linecap="round"/><line x1="604.50" y1="952.00" x2="604.50" y2="948.80" stroke="#000" stroke-width="2.6" stroke-linecap="round"/><line x1="349.15" y1="509.90" x2="351.92" y2="511.50" stroke="#000" stroke-width="2.6" stroke-linecap="round"/><line x1="859.65" y1="509.90" x2="856.88" y2="511.50" stroke="#000" stroke-width="2.6" stroke-linecap="round"/><line x1="706.60" y1="952.00" x2="706.60" y2="939.90" stroke="#000" stroke-width="2.6" stroke-linecap="round"/><line x1="298.12" y1="598.32" x2="308.60" y2="604.37" stroke="#000" stroke-width="2.6" stroke-linecap="round"/><line x1="808.58" y1="421.48" x2="798.10" y2="427.53" stroke="#000" stroke-width="2.6" stroke-linecap="round"/><line x1="808.70" y1="952.00" x2="808.70" y2="948.80" stroke="#000" stroke-width="2.6" stroke-linecap="round"/><line x1="247.09" y1="686.74" x2="249.86" y2="688.34" stroke="#000" stroke-width="2.6" stroke-linecap="round"/><line x1="757.51" y1="333.06" x2="754.74" y2="334.66" stroke="#000" stroke-width="2.6" stroke-linecap="round"/><line x1="910.80" y1="952.00" x2="910.80" y2="939.90" stroke="#000" stroke-width="2.6" stroke-linecap="round"/><line x1="196.06" y1="775.16" x2="206.54" y2="781.21" stroke="#000" stroke-width="2.6" stroke-linecap="round"/><line x1="706.44" y1="244.64" x2="695.96" y2="250.69" stroke="#000" stroke-width="2.6" stroke-linecap="round"/><line x1="1012.90" y1="952.00" x2="1012.90" y2="948.80" stroke="#000" stroke-width="2.6" stroke-linecap="round"/><line x1="145.03" y1="863.58" x2="147.80" y2="865.18" stroke="#000" stroke-width="2.6" stroke-linecap="round"/><line x1="655.37" y1="156.22" x2="652.60" y2="157.82" stroke="#000" stroke-width="2.6" stroke-linecap="round"/></g>
<g id="legend"><path d="M896.00,130.40L909.12,139.94L904.11,155.36L887.89,155.36L882.88,139.94Z" fill="#000"/><path d="M894.90,176.40L899.05,185.39L908.88,186.56L901.61,193.28L903.54,202.99L894.90,198.16L886.26,202.99L888.19,193.28L880.92,186.56L890.75,185.39Z" fill="#000"/><path d="M896.80,226.00L909.30,248.70L884.30,248.70Z" fill="#000"/><path d="M895.60,270.80L909.20,295.80L882.00,295.80Z" fill="#000"/><path d="M895.60,276.24L904.61,292.81L886.59,292.81Z" fill="#fff"/><path d="M895.20,319.10L909.60,333.40L895.20,347.70L880.80,333.40Z" fill="#000"/><path d="M895.80,371.30L910.00,385.50L895.80,399.70L881.60,385.50Z" fill="#000"/><path d="M895.80,374.98L906.32,385.50L895.80,396.02L885.28,385.50Z" fill="#fff"/></g>
<g id="labels" opacity="0.999"><text transform="translate(71.21,996.70) scale(1,1.02)" font-size="31.5">0.0</text><text transform="translate(546.94,69.70) scale(1,1.02)" font-size="31.5">0.0</text><text transform="translate(1129.57,956.30) scale(1,1.02)" font-size="31.5">0.0</text><text transform="translate(275.28,996.70) scale(1,1.02)" font-size="31.5">0.2</text><text transform="translate(444.69,247.10) scale(1,1.02)" font-size="31.5">0.2</text><text transform="translate(1026.97,778.60) scale(1,1.02)" font-size="31.5">0.2</text><text transform="translate(479.65,996.70) scale(1,1.02)" font-size="31.5">0.4</text><text transform="translate(342.13,424.30) scale(1,1.02)" font-size="31.5">0.4</text><text transform="translate(924.77,601.20) scale(1,1.02)" font-size="31.5">0.4</text><text transform="translate(684.68,996.70) scale(1,1.02)" font-size="31.5">0.6</text><text transform="translate(239.89,601.80) scale(1,1.02)" font-size="31.5">0.6</text><text transform="translate(822.17,424.80) scale(1,1.02)" font-size="31.5">0.6</text><text transform="translate(889.57,996.70) scale(1,1.02)" font-size="31.5">0.8</text><text transform="translate(137.58,778.40) scale(1,1.02)" font-size="31.5">0.8</text><text transform="translate(719.87,246.80) scale(1,1.02)" font-size="31.5">0.8</text><text transform="translate(1093.92,996.70) scale(1,1.02)" font-size="31.5">1.0</text><text transform="translate(34.74,955.40) scale(1,1.02)" font-size="31.5">1.0</text><text transform="translate(618.60,69.70) scale(1,1.02)" font-size="31.5">1.0</text><text transform="translate(359.62,36.90) scale(1,1.05)" font-size="44.8">Kaolinite Group Minerals</text><text transform="translate(-1.03,1046.90) scale(1,1.05)" font-size="44.8">Illite-Mica</text><text transform="translate(936.48,1045.70) scale(1,1.05)" font-size="44.8">Quartz+Feldspars</text><text transform="translate(955.34,153.80) scale(1,1.05)" font-size="44.8">Ukc</text><text transform="translate(955.34,202.30) scale(1,1.05)" font-size="44.8">Usc</text><text transform="translate(955.12,248.70) scale(1,1.05)" font-size="44.8">HK–High-grade kaolin</text><text transform="translate(955.12,295.80) scale(1,1.05)" font-size="44.8">LK–Low-grade kaolin</text><text transform="translate(955.12,347.70) scale(1,1.05)" font-size="44.8">RK–Raw kaolin</text><text transform="translate(955.12,398.70) scale(1,1.05)" font-size="44.8">KL–Kaolinitic loam</text></g>
</svg>
</body></html>
